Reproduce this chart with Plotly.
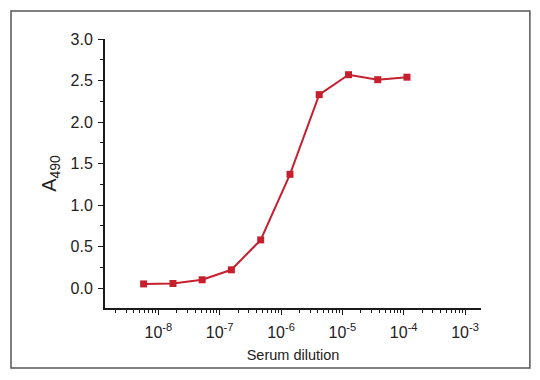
import plotly.graph_objects as go

dilution = [5.75e-9, 1.73e-8, 5.18e-8, 1.55e-7, 4.66e-7, 1.40e-6, 4.19e-6, 1.26e-5, 3.77e-5, 1.13e-4]
a490 = [0.05, 0.055, 0.10, 0.22, 0.58, 1.37, 2.33, 2.57, 2.51, 2.54]

x_tickvals = [1e-8, 1e-7, 1e-6, 1e-5, 1e-4, 1e-3]
x_ticktext = ["10<sup>-8</sup>", "10<sup>-7</sup>", "10<sup>-6</sup>", "10<sup>-5</sup>", "10<sup>-4</sup>", "10<sup>-3</sup>"]
y_tickvals = [0.0, 0.5, 1.0, 1.5, 2.0, 2.5, 3.0]
y_ticktext = ["0.0", "0.5", "1.0", "1.5", "2.0", "2.5", "3.0"]

red = "#c6202f"
axis_col = "#1a1a1a"
font = "Liberation Sans, Arial, Helvetica, sans-serif"

fig = go.Figure()
fig.add_trace(go.Scatter(
    x=dilution, y=a490, mode="lines+markers",
    line=dict(color=red, width=2),
    marker=dict(symbol="square", size=7, color=red),
    showlegend=False,
))

fig.update_layout(
    width=540, height=380,
    margin=dict(l=97, r=67, t=31, b=80),
    paper_bgcolor="white", plot_bgcolor="white",
    font=dict(family=font, color="#222"),
    xaxis=dict(
        type="log", range=[-8.87, -2.74],
        tickvals=x_tickvals, ticktext=x_ticktext,
        ticks="outside", ticklen=5, tickwidth=1.3, tickcolor=axis_col,
        ticklabelstandoff=4,
        minor=dict(ticks="outside", ticklen=3, tickwidth=1, tickcolor=axis_col, dtick="D1", showgrid=False),
        showline=True, linecolor=axis_col, linewidth=2,
        showgrid=False, zeroline=False,
        tickfont=dict(size=16, family=font, color="#222"),
        title=dict(text="Serum dilution", font=dict(size=14.5, family=font, color="#222"), standoff=10),
    ),
    yaxis=dict(
        range=[-0.24, 3.0],
        tickvals=y_tickvals, ticktext=y_ticktext,
        ticks="outside", ticklen=5, tickwidth=1.3, tickcolor=axis_col,
        ticklabelstandoff=2,
        minor=dict(ticks="outside", ticklen=3, tickwidth=1, tickcolor=axis_col, dtick=0.25, tick0=0, showgrid=False),
        showline=True, linecolor=axis_col, linewidth=2,
        showgrid=False, zeroline=False,
        tickfont=dict(size=16, family=font, color="#222"),
        title=dict(text="A<sub>490</sub>", font=dict(size=20, family=font, color="#222"), standoff=9),
    ),
    shapes=[dict(
        type="rect", xref="paper", yref="paper",
        x0=-0.25, x1=1.130, y0=-0.223, y1=1.104,
        line=dict(color="#555", width=1.5), fillcolor="rgba(0,0,0,0)", layer="below",
    )],
)

fig.write_html("out.html")
